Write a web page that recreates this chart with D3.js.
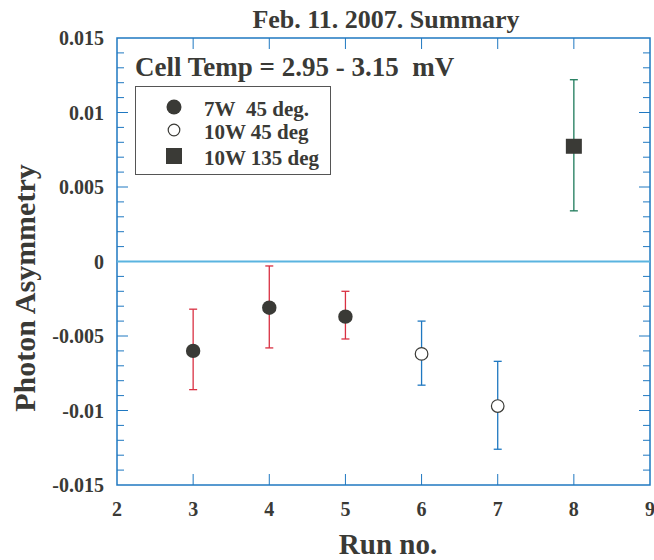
<!DOCTYPE html>
<html>
<head>
<meta charset="utf-8">
<script src="https://cdn.jsdelivr.net/npm/d3@7"></script>
<style>
  body { margin: 0; background: #fff; }
  text { font-family: "Liberation Serif", "Times New Roman", serif; font-weight: bold; fill: #3a3a36; }
</style>
</head>
<body>
<div id="chart"></div>
<script>
// Run numbers, asymmetry values and error bar ends
const runs7W45  = [3, 4, 5];
const vals7W45  = [-0.0060, -0.0031, -0.0037];
const hi7W45    = [-0.0032, -0.0003, -0.0020];
const lo7W45    = [-0.0086, -0.0058, -0.0052];

const runs10W45 = [6, 7];
const vals10W45 = [-0.0062, -0.0097];
const hi10W45   = [-0.0040, -0.0067];
const lo10W45   = [-0.0083, -0.0126];

const runs10W135 = [8];
const vals10W135 = [0.0077];
const hi10W135   = [0.0122];
const lo10W135   = [0.0034];

const xTicks = [2, 3, 4, 5, 6, 7, 8, 9];
const yTicks = [-0.015, -0.01, -0.005, 0, 0.005, 0.01, 0.015];
const legendLabels = ['7W\u00a0 45 deg.', '10W 45 deg', '10W 135 deg'];

const W = 654, H = 560;
const m = { left: 117, right: 4, top: 38, bottom: 75 };
const axisColor = '#1f78c1';

const svg = d3.select('#chart').append('svg')
  .attr('width', W).attr('height', H);

const x = d3.scaleLinear().domain([2, 9]).range([m.left, W - m.right]);
const y = d3.scaleLinear().domain([-0.015, 0.015]).range([H - m.bottom, m.top]);

const x0 = x.range()[0], x1 = x.range()[1];
const y0 = y.range()[0], y1 = y.range()[1];

/* ---------- frame and ticks ---------- */
const frame = svg.append('g').attr('stroke', axisColor).attr('fill', 'none');
frame.append('rect')
  .attr('x', x0).attr('y', y1)
  .attr('width', x1 - x0).attr('height', y0 - y1)
  .attr('stroke-width', 1.5);

// zero line
svg.append('line')
  .attr('x1', x0).attr('x2', x1)
  .attr('y1', y(0)).attr('y2', y(0))
  .attr('stroke', '#5ab4e0').attr('stroke-width', 2);

// x ticks, inward on bottom and top
xTicks.slice(1, -1).forEach(t => {
  frame.append('line').attr('x1', x(t)).attr('x2', x(t)).attr('y1', y0).attr('y2', y0 - 11);
  frame.append('line').attr('x1', x(t)).attr('x2', x(t)).attr('y1', y1).attr('y2', y1 + 11);
});

// y minor ticks every 0.001, major every 0.005
const yMinor = d3.range(-14, 15).map(i => i / 1000);
yMinor.forEach(t => {
  const major = Math.abs(Math.round(t * 1000)) % 5 === 0;
  const len = major ? 11 : 7;
  frame.append('line').attr('x1', x0).attr('x2', x0 + len).attr('y1', y(t)).attr('y2', y(t));
  frame.append('line').attr('x1', x1).attr('x2', x1 - len).attr('y1', y(t)).attr('y2', y(t));
});

/* ---------- tick labels ---------- */
svg.append('g').selectAll('text').data(xTicks).join('text')
  .attr('x', d => x(d)).attr('y', y0 + 31)
  .attr('text-anchor', 'middle')
  .attr('font-size', 20)
  .text(d => d);

svg.append('g').selectAll('text').data(yTicks).join('text')
  .attr('x', x0 - 13).attr('y', d => y(d) + 7)
  .attr('text-anchor', 'end')
  .attr('font-size', 20)
  .text(d => String(d));

/* ---------- titles ---------- */
svg.append('text')
  .attr('x', 386).attr('y', 28)
  .attr('text-anchor', 'middle').attr('font-size', 26)
  .text('Feb. 11. 2007. Summary');

svg.append('text')
  .attr('x', 388).attr('y', 554)
  .attr('text-anchor', 'middle').attr('font-size', 29)
  .attr('fill', '#1a1a1a')
  .text('Run no.');

svg.append('text')
  .attr('transform', 'translate(35,288) rotate(-90)')
  .attr('text-anchor', 'middle').attr('font-size', 30)
  .attr('fill', '#1a1a1a')
  .text('Photon Asymmetry');

/* ---------- series ---------- */
function errorBars(runs, hi, lo, color) {
  const g = svg.append('g').attr('stroke', color).attr('stroke-width', 1.3);
  runs.forEach((r, i) => {
    const cx = x(r);
    g.append('line').attr('x1', cx).attr('x2', cx).attr('y1', y(hi[i])).attr('y2', y(lo[i]));
    g.append('line').attr('x1', cx - 4).attr('x2', cx + 4).attr('y1', y(hi[i])).attr('y2', y(hi[i]));
    g.append('line').attr('x1', cx - 4).attr('x2', cx + 4).attr('y1', y(lo[i])).attr('y2', y(lo[i]));
  });
}

errorBars(runs7W45, hi7W45, lo7W45, '#d93042');
errorBars(runs10W45, hi10W45, lo10W45, '#1f78c1');
errorBars(runs10W135, hi10W135, lo10W135, '#1d7a5a');

const markColor = '#3a3a36';

svg.append('g').selectAll('circle').data(runs7W45).join('circle')
  .attr('cx', d => x(d)).attr('cy', (d, i) => y(vals7W45[i]))
  .attr('r', 7.2).attr('fill', markColor);

svg.append('g').selectAll('circle').data(runs10W45).join('circle')
  .attr('cx', d => x(d)).attr('cy', (d, i) => y(vals10W45[i]))
  .attr('r', 6.3).attr('fill', '#fff').attr('stroke', markColor).attr('stroke-width', 1.2);

svg.append('g').selectAll('rect').data(runs10W135).join('rect')
  .attr('x', d => x(d) - 8).attr('y', (d, i) => y(vals10W135[i]) - 8)
  .attr('width', 16).attr('height', 15).attr('fill', markColor);

/* ---------- annotation and legend ---------- */
svg.append('text')
  .attr('x', 135).attr('y', 76)
  .attr('font-size', 27)
  .text('Cell Temp = 2.95 - 3.15\u00a0 mV');

svg.append('rect')
  .attr('x', 135.5).attr('y', 86.5).attr('width', 195).attr('height', 88)
  .attr('fill', 'none').attr('stroke', '#555').attr('stroke-width', 1);

const legY = [107, 130, 156];
const leg = svg.append('g');
leg.append('circle').attr('cx', 174).attr('cy', legY[0]).attr('r', 7.5).attr('fill', markColor);
leg.append('circle').attr('cx', 174).attr('cy', legY[1]).attr('r', 5.8)
  .attr('fill', '#fff').attr('stroke', markColor).attr('stroke-width', 1.2);
leg.append('rect').attr('x', 166).attr('y', legY[2] - 8).attr('width', 16).attr('height', 16).attr('fill', markColor);

leg.selectAll('text').data(legendLabels).join('text')
  .attr('x', 204).attr('y', (d, i) => legY[i] + 9)
  .attr('font-size', 21)
  .text(d => d);
</script>
</body>
</html>
